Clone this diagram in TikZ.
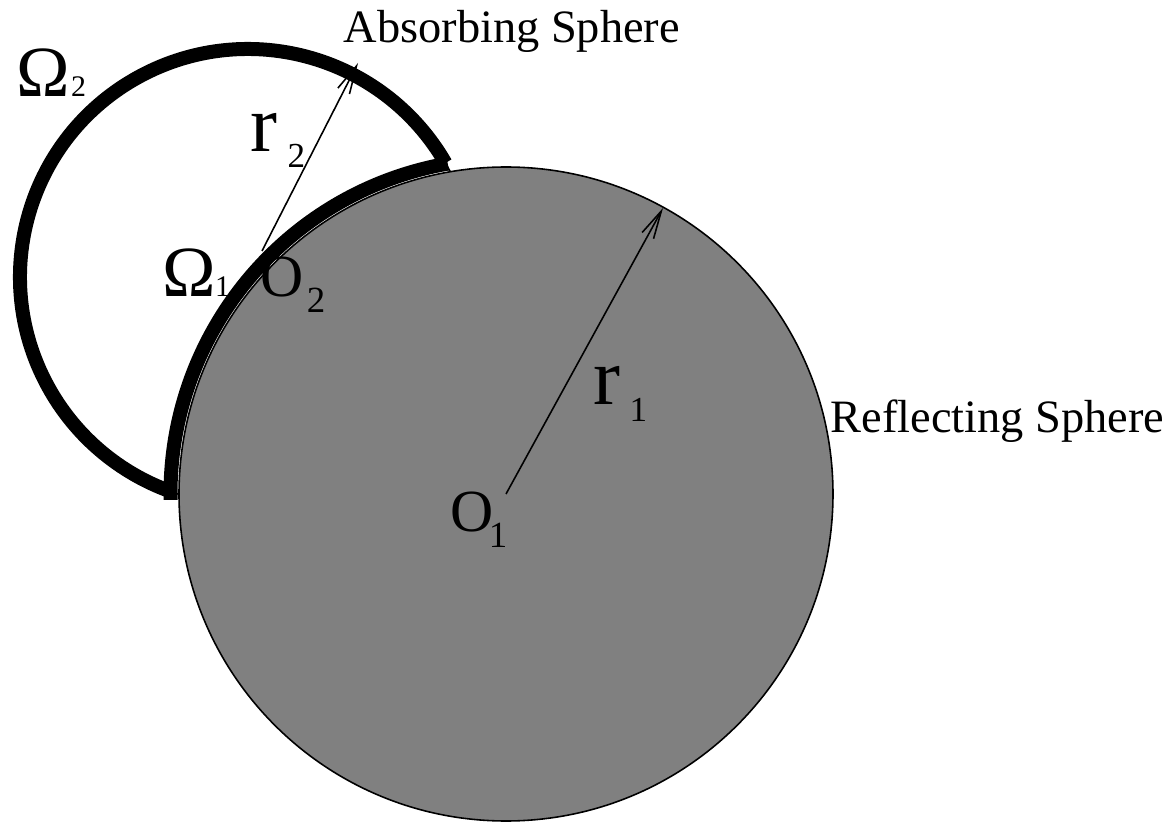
\documentclass[tikz,border=0pt]{standalone}
\usepackage{fontspec}
\setmainfont{Liberation Serif}
\usepackage{tikz}
\usetikzlibrary{arrows.meta}

\begin{document}
\begin{tikzpicture}[
    thinline/.style={line width=0.45pt},
    boundary/.style={line width=0.14cm},
    radius arrow/.style={thinline, -{Straight Barb[length=0.28cm, width=0.13cm]}},
    caption/.style={inner sep=0pt, anchor=base west, font=\fontsize{13.2}{15}\selectfont},
    symb/.style={inner sep=0pt, anchor=base west}
]
\useasboundingbox (0,0) rectangle (11.71,8.22);

% Centres and radius ends
\coordinate (C2) at (2.48,5.45);
\coordinate (O1) at (5.06,3.28);
\coordinate (O2) at (2.62,5.71);
\coordinate (tip1) at (6.63,6.14);
\coordinate (tip2) at (3.58,7.59);

% Absorbing sphere (thin outline, thick part Omega_2)
\draw[thinline] (C2) circle (2.28);
\draw[boundary] ([shift={(30:2.28)}]C2) arc[start angle=30, end angle=250, radius=2.28];

% Reflecting sphere
\draw[thinline, fill=gray] (O1) circle (3.27);

% Part Omega_1 on the reflecting sphere
\draw[boundary] ([shift={(100:3.355)}]O1) arc[start angle=100, end angle=181, radius=3.355];

% Radii
\draw[radius arrow] (O1) -- (tip1);
\draw[radius arrow] (O2) -- (tip2);

% Labels
\node[caption] (absorb) at (3.43,7.79) {Absorbing Sphere};
\node[caption] (reflect) at (8.30,3.89) {Reflecting Sphere};

\node[symb] (om2) at (0.16,7.25) {\fontsize{20.5}{23}\selectfont Ω\kern0.01cm{\fontsize{8.5}{10}\selectfont 2}};
\node[symb] (om1) at (1.62,5.25) {\fontsize{20.5}{23}\selectfont Ω\kern-0.01cm{\fontsize{8.5}{10}\selectfont 1}};

\node[symb] (lr2) at (2.50,6.70) {\fontsize{23}{25}\selectfont r\kern0.10cm\raisebox{-0.16cm}{\fontsize{10}{12}\selectfont 2}};
\node[symb] (lr1) at (5.93,4.17) {\fontsize{23}{25}\selectfont r\kern0.09cm\raisebox{-0.17cm}{\fontsize{10}{12}\selectfont 1}};

\node[symb] (lo2) at (2.60,5.25) {\fontsize{17}{20}\selectfont O\kern0.03cm\raisebox{-0.16cm}{\fontsize{10.5}{12}\selectfont 2}};
\node[symb] (lo1) at (4.50,2.90) {\fontsize{17}{20}\selectfont O\kern-0.05cm\raisebox{-0.16cm}{\fontsize{10.5}{12}\selectfont 1}};

\end{tikzpicture}
\end{document}
